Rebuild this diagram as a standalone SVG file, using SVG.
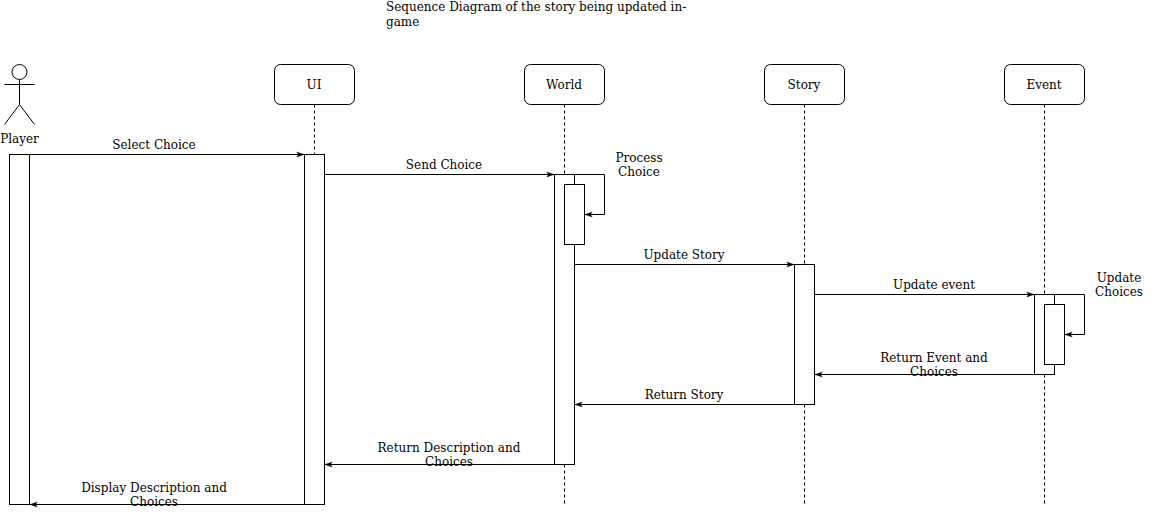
<svg xmlns="http://www.w3.org/2000/svg" width="1165" height="513" viewBox="0 0 1165 513">
<defs>
<marker id="arrow" markerUnits="userSpaceOnUse" markerWidth="9" markerHeight="8" refX="8" refY="4" orient="auto"><path d="M0.8 1.5 L8 4 L0.8 6.5 L2.6 4 Z" fill="#000" stroke="#000" stroke-width="0.4"/></marker>
</defs>
<style>
text{font-family:"DejaVu Serif",serif;font-size:12px;fill:#000;text-anchor:middle;opacity:0.99}
.s{fill:#fff;stroke:#000;stroke-width:1}
.l{fill:none;stroke:#000;stroke-width:1}
.d{fill:none;stroke:#000;stroke-width:1;stroke-dasharray:3 3}
.a{fill:none;stroke:#000;stroke-width:1;marker-end:url(#arrow)}
.t{text-anchor:start}
</style>
<rect width="1165" height="513" fill="#fff"/>
<g id="title"><text class="t" x="386" y="11">Sequence Diagram of the story being updated in-</text><text class="t" x="386" y="26">game</text></g>
<g id="lifelines">
<path class="d" d="M314.5 104.5V154.5M564.5 104.5V504.5M804.5 104.5V504.5M1044.5 104.5V504.5"/>
</g>
<g id="player">
<circle class="l" cx="19.5" cy="72" r="7.5"/>
<path class="l" d="M19.5 79.5V104.5M4.5 84.5H34.5M19.5 104.5L4.5 124.5M19.5 104.5L34.5 124.5"/>
<text x="19.5" y="143">Player</text>
<rect class="s" x="9.5" y="154.5" width="20" height="350"/>
</g>
<g id="ui">
<rect class="s" x="274.5" y="64.5" width="80" height="40" rx="6" ry="6"/>
<text x="314" y="89">UI</text>
<rect class="s" x="304.5" y="154.5" width="20" height="350"/>
</g>
<g id="world">
<rect class="s" x="524.5" y="64.5" width="80" height="40" rx="6" ry="6"/>
<text x="564" y="89">World</text>
<rect class="s" x="554.5" y="174.5" width="20" height="290"/>
<rect class="s" x="564.5" y="184.5" width="20" height="60"/>
</g>
<g id="story">
<rect class="s" x="764.5" y="64.5" width="80" height="40" rx="6" ry="6"/>
<text x="804" y="89">Story</text>
<rect class="s" x="794.5" y="264.5" width="20" height="140"/>
</g>
<g id="event">
<rect class="s" x="1004.5" y="64.5" width="80" height="40" rx="6" ry="6"/>
<text x="1044" y="89">Event</text>
<rect class="s" x="1034.5" y="294.5" width="20" height="80"/>
<rect class="s" x="1044.5" y="304.5" width="20" height="60"/>
</g>
<g id="connectors">
<path class="a" d="M29.5 154.5H304"/>
<path class="a" d="M324.5 174.5H554"/>
<path class="a" d="M574.5 174.5H604.5V214.5H585"/>
<path class="a" d="M574.5 264.5H794"/>
<path class="a" d="M814.5 294.5H1034"/>
<path class="a" d="M1054.5 294.5H1084.5V334.5H1065"/>
<path class="a" d="M1034.5 374.5H815"/>
<path class="a" d="M794.5 404.5H575"/>
<path class="a" d="M554.5 464.5H325"/>
<path class="a" d="M304.5 504.5H30"/>
<text x="154" y="149">Select Choice</text>
<text x="444" y="169">Send Choice</text>
<text x="639" y="162">Process</text><text x="639" y="176">Choice</text>
<text x="684" y="259">Update Story</text>
<text x="934" y="289">Update event</text>
<text x="1119" y="282">Update</text><text x="1119" y="296">Choices</text>
<text x="934" y="362">Return Event and</text><text x="934" y="376">Choices</text>
<text x="684" y="399">Return Story</text>
<text x="449" y="452">Return Description and</text><text x="449" y="466">Choices</text>
<text x="154" y="492">Display Description and</text><text x="154" y="506">Choices</text>
</g>
</svg>
